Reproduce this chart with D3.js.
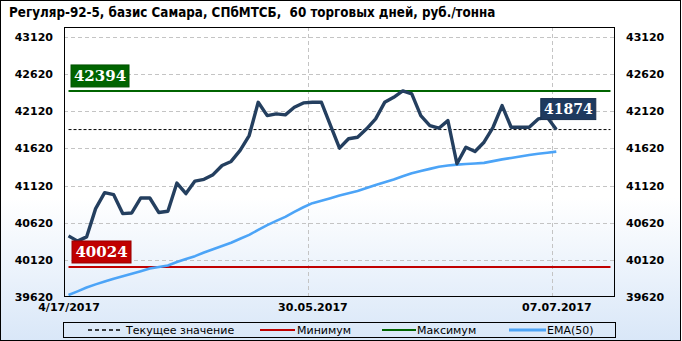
<!DOCTYPE html>
<html>
<head>
<meta charset="utf-8">
<script src="https://cdn.jsdelivr.net/npm/d3@7"></script>
<style>
  body { margin: 0; background: #fff; }
  svg text { font-family: "DejaVu Sans", sans-serif; }
</style>
</head>
<body>
<div id="chart"></div>
<script>
// значения (55 торговых дней из 61 позиции оси)
const priceValues = [
  40443, 40372, 40429, 40810, 41025, 40998, 40743, 40751, 40953, 40953,
  40757, 40774, 41154, 41012, 41181, 41204, 41267, 41391, 41445, 41593,
  41794, 42241, 42062, 42085, 42072, 42174, 42233, 42241, 42241, 41932,
  41624, 41750, 41771, 41884, 42018, 42241, 42308, 42394, 42354, 42062,
  41928, 41892, 41995, 41414, 41637, 41579, 41704, 41905, 42197, 41905,
  41905, 41905, 42018, 42040, 41874
];
const emaValues = [
  39647, 39696, 39747, 39790, 39828, 39867, 39900, 39934, 39968, 40004,
  40025, 40044, 40090, 40131, 40170, 40219, 40264, 40307, 40351, 40404,
  40457, 40523, 40588, 40644, 40699, 40766, 40828, 40883, 40916, 40950,
  40985, 41016, 41047, 41087, 41127, 41165, 41201, 41245, 41285, 41316,
  41345, 41374, 41390, 41402, 41410, 41418, 41426, 41449, 41473, 41492,
  41512, 41531, 41548, 41563, 41577
];
const minValue = 40024;
const maxValue = 42394;
const currentValue = 41874;

const yTicks = [39620, 40120, 40620, 41120, 41620, 42120, 42620, 43120];
const xTickIdx = [0, 27, 54];
const xTickLabels = ["4/17/2017", "30.05.2017", "07.07.2017"];
const slotCount = 61;

const legendLabels = ["Текущее значение", "Минимум", "Максимум", "EMA(50)"];

const W = 682, H = 341;
const plot = { left: 64, right: 615, top: 27, bottom: 297 };

const svg = d3.select("#chart").append("svg")
  .attr("width", W).attr("height", H);

// фон с градиентом
const grad = svg.append("defs").append("linearGradient")
  .attr("id", "bg").attr("x1", 0).attr("y1", 0).attr("x2", 0).attr("y2", 1);
grad.append("stop").attr("offset", "0%").attr("stop-color", "#ffffff");
grad.append("stop").attr("offset", "58%").attr("stop-color", "#ffffff");
grad.append("stop").attr("offset", "100%").attr("stop-color", "#d9e7f8");
svg.append("rect").attr("x", 0.5).attr("y", 0.5).attr("width", 680).attr("height", 340)
  .attr("fill", "url(#bg)").attr("stroke", "#000");

const x = d3.scaleLinear().domain([-0.5, slotCount - 0.5]).range([plot.left, plot.right]);
const y = d3.scaleLinear().domain([39620, 43255]).range([plot.bottom, plot.top]);

// заголовок
svg.append("text")
  .attr("x", 9).attr("y", 17)
  .style("font-family", "'DejaVu Sans Condensed', sans-serif")
  .style("font-weight", "bold").style("font-size", "13.3px")
  .style("white-space", "pre")
  .text("Регуляр-92-5, базис Самара, СПбМТСБ,  60 торговых дней, руб./тонна");

// сетка
const grid = svg.append("g").attr("class", "grid");
grid.selectAll("line.h").data(yTicks.filter(d => d > 39620)).join("line")
  .attr("class", "h")
  .attr("x1", plot.left).attr("x2", plot.right)
  .attr("y1", d => Math.round(y(d)) + 0.5).attr("y2", d => Math.round(y(d)) + 0.5)
  .attr("stroke", "#c4c4c4").attr("stroke-dasharray", "4,3");
grid.selectAll("line.v").data(xTickIdx.filter(d => d > 0)).join("line")
  .attr("class", "v")
  .attr("x1", d => Math.round(x(d - 0.5)) + 0.5).attr("x2", d => Math.round(x(d - 0.5)) + 0.5)
  .attr("y1", plot.top).attr("y2", plot.bottom)
  .attr("stroke", "#c4c4c4").attr("stroke-dasharray", "4,3");

// оси
const yLeft = d3.axisLeft(y).tickValues(yTicks).tickSize(0).tickPadding(11).tickFormat(d3.format("d"));
const yRight = d3.axisRight(y).tickValues(yTicks).tickSize(0).tickPadding(11).tickFormat(d3.format("d"));
const xAxis = d3.axisBottom(x).tickValues(xTickIdx).tickSize(0).tickPadding(6)
  .tickFormat((d, i) => xTickLabels[i]);

function styleAxis(g) {
  g.select(".domain").remove();
  g.selectAll("text").style("font-size", "11px").style("font-weight", "bold")
    .style("font-family", "'DejaVu Sans', sans-serif").attr("fill", "#000");
}
svg.append("g").attr("transform", `translate(${plot.left},0)`).call(yLeft).call(styleAxis);
svg.append("g").attr("transform", `translate(${plot.right},0)`).call(yRight).call(styleAxis);
svg.append("g").attr("transform", `translate(0,${plot.bottom})`).call(xAxis).call(styleAxis);

// горизонтальные уровни
const levels = [
  { v: currentValue, color: "#000", width: 1, dash: "3,2" },
  { v: minValue, color: "#c00000", width: 2, dash: null },
  { v: maxValue, color: "#006400", width: 2, dash: null }
];
svg.selectAll("line.level").data(levels).join("line")
  .attr("class", "level")
  .attr("x1", x(0)).attr("x2", x(slotCount - 1))
  .attr("y1", d => y(d.v)).attr("y2", d => y(d.v))
  .attr("stroke", d => d.color).attr("stroke-width", d => d.width)
  .attr("stroke-dasharray", d => d.dash);

// линии
const line = d3.line().x((d, i) => x(i)).y(d => y(d));
svg.append("path").datum(emaValues).attr("d", line)
  .attr("fill", "none").attr("stroke", "#4ca4f7").attr("stroke-width", 2.6)
  .attr("stroke-linejoin", "round");
svg.append("path").datum(priceValues).attr("d", line)
  .attr("fill", "none").attr("stroke", "#243f5f").attr("stroke-width", 3.4)
  .attr("stroke-linejoin", "round");

// рамка области графика
svg.append("rect").attr("x", plot.left + 0.5).attr("y", plot.top + 0.5)
  .attr("width", plot.right - plot.left - 1).attr("height", plot.bottom - plot.top - 1)
  .attr("fill", "none").attr("stroke", "#000");

// подписи значений
function valueBox(v, x0, yBottom, fill, w, h, size) {
  const g = svg.append("g");
  g.append("rect").attr("x", x0).attr("y", yBottom - h).attr("width", w).attr("height", h)
    .attr("fill", fill).attr("stroke", d3.color(fill).darker(0.6)).attr("stroke-width", 1);
  g.append("text").attr("x", x0 + w / 2).attr("y", yBottom - h / 2)
    .attr("text-anchor", "middle").attr("dominant-baseline", "central")
    .style("font-family", "'DejaVu Serif', serif").style("font-weight", "bold")
    .style("font-size", size + "px").attr("fill", "#fff").text(v);
}
valueBox(maxValue, x(0) + 2.5, y(maxValue) - 4, "#006400", 58, 22, 15);
valueBox(minValue, x(0) + 3.5, y(minValue) - 4, "#c00000", 59, 22, 15);
const lastI = priceValues.length - 1;
valueBox(currentValue, x(lastI) - 15.5, y(currentValue) - 10, "#1e3a5f", 55, 21, 14);

// легенда
const lg = svg.append("g");
lg.append("rect").attr("x", 63.5).attr("y", 322.5).attr("width", 552).attr("height", 15)
  .attr("fill", "none").attr("stroke", "#000");
const legendKeys = [
  { x1: 88, x2: 120, color: "#000", width: 1.5, dash: "4,3", tx: 126 },
  { x1: 260, x2: 295, color: "#c00000", width: 2, dash: null, tx: 297 },
  { x1: 382, x2: 416, color: "#006400", width: 2, dash: null, tx: 417 },
  { x1: 509, x2: 546, color: "#4ca4f7", width: 3, dash: null, tx: 547 }
];
legendKeys.forEach((k, i) => {
  lg.append("line").attr("x1", k.x1).attr("x2", k.x2).attr("y1", 330).attr("y2", 330)
    .attr("stroke", k.color).attr("stroke-width", k.width).attr("stroke-dasharray", k.dash);
  lg.append("text").attr("x", k.tx).attr("y", 334)
    .style("font-size", "11px").text(legendLabels[i]);
});
</script>
</body>
</html>
